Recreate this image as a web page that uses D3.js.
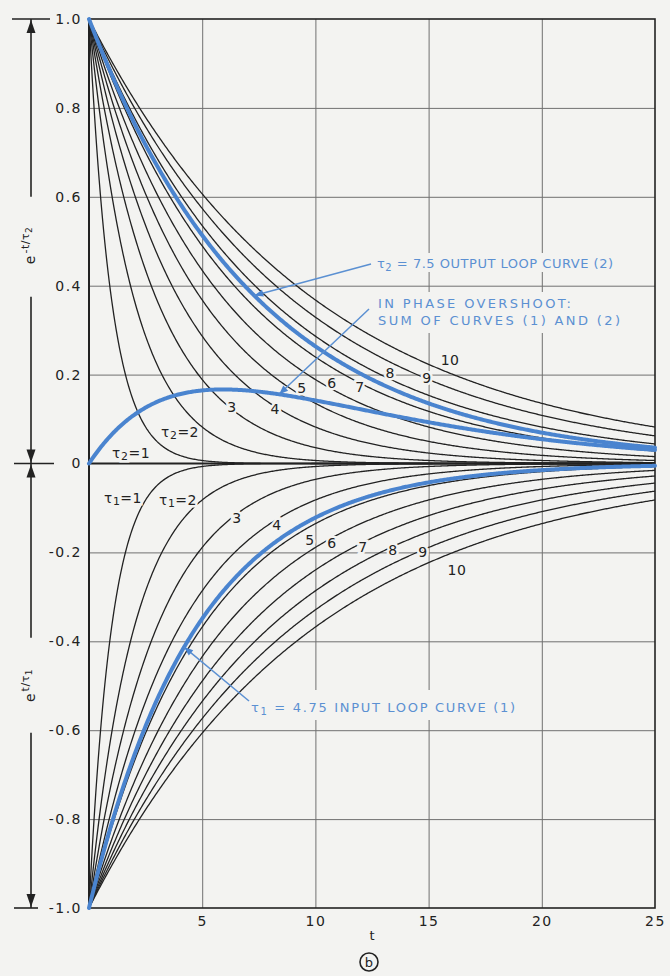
<!DOCTYPE html>
<html><head><meta charset="utf-8">
<script src="https://cdn.jsdelivr.net/npm/d3@7"></script>
<style>
html,body{margin:0;padding:0;background:#f3f3f1;}
svg{display:block;}
text{font-family:"DejaVu Sans",sans-serif;}
</style></head><body>
<svg id="chart" width="670" height="976"></svg>
<script>
// ---------------- data ----------------
// families of exponential curves: upper e^(-t/τ2), lower -e^(-t/τ1)
const tau2Family = [1, 2, 3, 4, 5, 6, 7, 8, 9, 10];
const tau1Family = [1, 2, 3, 4, 5, 6, 7, 8, 9, 10];
const tau2OutputLoop = 7.5;   // blue output loop curve (2)
const tau1InputLoop = 4.75;   // blue input loop curve (1)
const tSamples = d3.range(0, 25.0001, 0.05);
const xTickValues = [5, 10, 15, 20, 25];
const xTickLabels = ["5", "10", "15", "20", "25"];
const yTickValues = [1, 0.8, 0.6, 0.4, 0.2, 0, -0.2, -0.4, -0.6, -0.8, -1];
const yTickLabels = ["1.0", "0.8", "0.6", "0.4", "0.2", "0", "-0.2", "-0.4", "-0.6", "-0.8", "-1.0"];
const upperCurveLabels = ["τ2=1", "τ2=2", "3", "4", "5", "6", "7", "8", "9", "10"];
const upperLabelT = [1.86, 4.02, 6.32, 8.22, 9.41, 10.73, 11.97, 13.30, 14.93, 15.95];
const upperLabelV = [0.024, 0.071, 0.127, 0.123, 0.170, 0.181, 0.172, 0.204, 0.192, 0.233];
const lowerCurveLabels = ["τ1=1", "τ1=2", "3", "4", "5", "6", "7", "8", "9", "10"];
const lowerLabelT = [1.50, 3.93, 6.54, 8.30, 9.76, 10.73, 12.10, 13.43, 14.75, 16.25];
const lowerLabelV = [-0.078, -0.082, -0.123, -0.138, -0.172, -0.179, -0.188, -0.195, -0.199, -0.240];
const annotationTexts = ["τ2 = 7.5 OUTPUT LOOP CURVE (2)", "IN PHASE OVERSHOOT:", "SUM OF CURVES (1) AND (2)", "τ1 = 4.75 INPUT LOOP CURVE (1)"];

// ---------------- layout ----------------
const BG = "#f3f3f1", INK = "#222", GRID = "#707070", BLUE = "#4a84cf", BLUE_T = "#5b90d2";
const x = d3.scaleLinear().domain([0, 25]).range([89, 655]);
const y = d3.scaleLinear().domain([-1, 1]).range([908, 19]);
const svg = d3.select("#chart");
svg.append("rect").attr("width", 670).attr("height", 976).attr("fill", BG);

// grid lines through axes
svg.append("g").attr("transform", `translate(0,${y(-1)})`)
  .call(d3.axisBottom(x).tickValues(xTickValues.filter(d => d < 25)).tickSize(-(y(-1) - y(1))).tickFormat(""))
  .call(g => { g.select(".domain").remove(); g.selectAll("line").attr("stroke", GRID).attr("stroke-width", 1); });
svg.append("g").attr("transform", `translate(${x(0)},0)`)
  .call(d3.axisLeft(y).tickValues(yTickValues.filter(d => Math.abs(d) < 1 && d !== 0)).tickSize(-(x(25) - x(0))).tickFormat(""))
  .call(g => { g.select(".domain").remove(); g.selectAll("line").attr("stroke", GRID).attr("stroke-width", 1); });

// tick labels
svg.append("g").attr("transform", `translate(${x(0)},0)`)
  .call(d3.axisLeft(y).tickValues(yTickValues).tickFormat((d, i) => yTickLabels[i]).tickSize(0).tickPadding(7))
  .call(g => { g.select(".domain").remove(); g.selectAll("text").attr("font-family", "DejaVu Sans").attr("font-size", 14).attr("letter-spacing", 1.5).attr("fill", INK); });
svg.append("g").attr("transform", `translate(0,${y(-1)})`)
  .call(d3.axisBottom(x).tickValues(xTickValues).tickFormat((d, i) => xTickLabels[i]).tickSize(0).tickPadding(8))
  .call(g => { g.select(".domain").remove(); g.selectAll("text").attr("font-family", "DejaVu Sans").attr("font-size", 14).attr("letter-spacing", 1.5).attr("fill", INK); });

// background patches behind blue annotation text (gaps in grid)
svg.append("rect").attr("x", 370).attr("y", 253).attr("width", 250).attr("height", 19).attr("fill", BG);
svg.append("rect").attr("x", 370).attr("y", 292).attr("width", 258).attr("height", 41).attr("fill", BG);
svg.append("rect").attr("x", 244).attr("y", 690).attr("width", 280).attr("height", 30).attr("fill", BG);

// frame and zero line
svg.append("rect").attr("x", x(0)).attr("y", y(1)).attr("width", x(25) - x(0)).attr("height", y(-1) - y(1))
  .attr("fill", "none").attr("stroke", INK).attr("stroke-width", 1.6);
svg.append("line").attr("x1", x(0)).attr("x2", x(0)).attr("y1", y(1)).attr("y2", y(-1)).attr("stroke", INK).attr("stroke-width", 2);
svg.append("line").attr("x1", x(0)).attr("x2", x(25)).attr("y1", y(0)).attr("y2", y(0)).attr("stroke", INK).attr("stroke-width", 2.2);

// curves
const line = d3.line().x(d => x(d[0])).y(d => y(d[1]));
const upperFn = tau => t => Math.exp(-t / tau);
const lowerFn = tau => t => -Math.exp(-t / tau);
const sumFn = t => upperFn(tau2OutputLoop)(t) + lowerFn(tau1InputLoop)(t);
const gCurves = svg.append("g").attr("fill", "none").attr("stroke", INK).attr("stroke-width", 1.3);
tau2Family.forEach(tau => gCurves.append("path").attr("d", line(tSamples.map(t => [t, upperFn(tau)(t)]))));
tau1Family.forEach(tau => gCurves.append("path").attr("d", line(tSamples.map(t => [t, lowerFn(tau)(t)]))));

// curve labels with halo
function addLabel(g, txt, px, py, size) {
  const t = g.append("text").attr("x", px).attr("y", py).attr("text-anchor", "middle").attr("dominant-baseline", "central")
    .attr("font-size", size).attr("fill", INK).attr("stroke", BG).attr("stroke-width", 5).attr("paint-order", "stroke")
    .attr("letter-spacing", 0.5);
  if (txt.startsWith("τ")) {
    t.append("tspan").text("τ");
    t.append("tspan").attr("dy", 3).attr("font-size", size * 0.78).text(txt[1]);
    t.append("tspan").attr("dy", -3).text(txt.slice(2));
  } else t.text(txt);
}

// blue curves
const gBlue = svg.append("g").attr("fill", "none").attr("stroke", BLUE).attr("stroke-width", 4).attr("stroke-linecap", "round");
gBlue.append("path").attr("d", line(tSamples.map(t => [t, upperFn(tau2OutputLoop)(t)])));
gBlue.append("path").attr("d", line(tSamples.map(t => [t, lowerFn(tau1InputLoop)(t)])));
gBlue.append("path").attr("d", line(tSamples.map(t => [t, sumFn(t)])));

const gLabels = svg.append("g");
upperCurveLabels.forEach((s, i) => addLabel(gLabels, s, x(upperLabelT[i]), y(upperLabelV[i]), 14));
lowerCurveLabels.forEach((s, i) => addLabel(gLabels, s, x(lowerLabelT[i]), y(lowerLabelV[i]), 14));

// arrowhead helper
function arrowHead(g, tip, from, len, hw, color) {
  const dx = tip[0] - from[0], dy = tip[1] - from[1], L = Math.hypot(dx, dy);
  const ux = dx / L, uy = dy / L, bx = tip[0] - ux * len, by = tip[1] - uy * len;
  g.append("path").attr("d", `M${tip[0]},${tip[1]}L${bx - uy * hw},${by + ux * hw}L${bx + uy * hw},${by - ux * hw}Z`)
    .attr("fill", color).attr("stroke", "none");
}

// blue annotations
const gAnn = svg.append("g");
function blueText(txt, px, py, len) {
  const t = gAnn.append("text").attr("x", px).attr("y", py).attr("font-size", 13).attr("fill", BLUE_T)
    .attr("textLength", len).attr("lengthAdjust", "spacing");
  if (txt.startsWith("τ")) {
    t.append("tspan").text("τ");
    t.append("tspan").attr("dy", 3).attr("font-size", 10).text(txt[1]);
    t.append("tspan").attr("dy", -3).text(txt.slice(2));
  } else t.text(txt);
}
function leader(from, tip) {
  gAnn.append("line").attr("x1", from[0]).attr("y1", from[1]).attr("x2", tip[0]).attr("y2", tip[1])
    .attr("stroke", BLUE_T).attr("stroke-width", 1.5);
  arrowHead(gAnn, tip, from, 9, 3.5, BLUE);
}
blueText(annotationTexts[0], 377, 268, 236);
blueText(annotationTexts[1], 378, 308, 193);
blueText(annotationTexts[2], 378, 325, 242);
blueText(annotationTexts[3], 251, 712, 264);
const tOut = 7.3, tSum = 8.4, tIn = 4.2;
leader([371, 264], [x(tOut), y(upperFn(tau2OutputLoop)(tOut))]);
leader([369, 309], [x(tSum), y(sumFn(tSum))]);
leader([249, 701], [x(tIn), y(lowerFn(tau1InputLoop)(tIn))]);

// left-side range arrows
const gLeft = svg.append("g").attr("stroke", INK).attr("stroke-width", 1.6);
const ax = 31;
gLeft.append("line").attr("x1", 12).attr("x2", 50).attr("y1", y(1)).attr("y2", y(1));
gLeft.append("line").attr("x1", 14).attr("x2", 54).attr("y1", y(0)).attr("y2", y(0));
gLeft.append("line").attr("x1", 14).attr("x2", 38).attr("y1", y(-1)).attr("y2", y(-1));
const upC = y(0.49), loC = y(-0.5);
gLeft.append("line").attr("x1", ax).attr("x2", ax).attr("y1", y(1)).attr("y2", upC - 49);
gLeft.append("line").attr("x1", ax).attr("x2", ax).attr("y1", upC + 51).attr("y2", y(0));
gLeft.append("line").attr("x1", ax).attr("x2", ax).attr("y1", y(0)).attr("y2", loC - 48);
gLeft.append("line").attr("x1", ax).attr("x2", ax).attr("y1", loC + 47).attr("y2", y(-1));
arrowHead(svg, [ax, y(1) + 1], [ax, y(1) + 30], 13, 4.5, INK);
arrowHead(svg, [ax, y(0) - 1], [ax, y(0) - 30], 13, 4.5, INK);
arrowHead(svg, [ax, y(0) + 1], [ax, y(0) + 30], 13, 4.5, INK);
arrowHead(svg, [ax, y(-1) - 1], [ax, y(-1) - 30], 13, 4.5, INK);

function sideLabel(cy, sup, sub) {
  const t = svg.append("text").attr("transform", `translate(35,${cy}) rotate(-90)`).attr("text-anchor", "middle")
    .attr("font-size", 14).attr("fill", INK);
  t.append("tspan").text("e");
  t.append("tspan").attr("dy", -6).attr("dx", 2).attr("font-size", 11).attr("letter-spacing", 0.5).text(sup);
  t.append("tspan").attr("dy", 3).attr("font-size", 9).text(sub);
}
sideLabel(upC, "-t/τ", "2");
sideLabel(loC, "t/τ", "1");

// x-axis title and panel mark
svg.append("text").attr("x", x(12.5)).attr("y", 940).attr("text-anchor", "middle").attr("font-size", 13).attr("fill", INK).text("t");
svg.append("circle").attr("cx", 369).attr("cy", 962).attr("r", 9).attr("fill", "none").attr("stroke", INK).attr("stroke-width", 1.6);
svg.append("text").attr("x", 369).attr("y", 962).attr("text-anchor", "middle").attr("dominant-baseline", "central")
  .attr("font-size", 13).attr("fill", INK).text("b");
</script></body></html>
